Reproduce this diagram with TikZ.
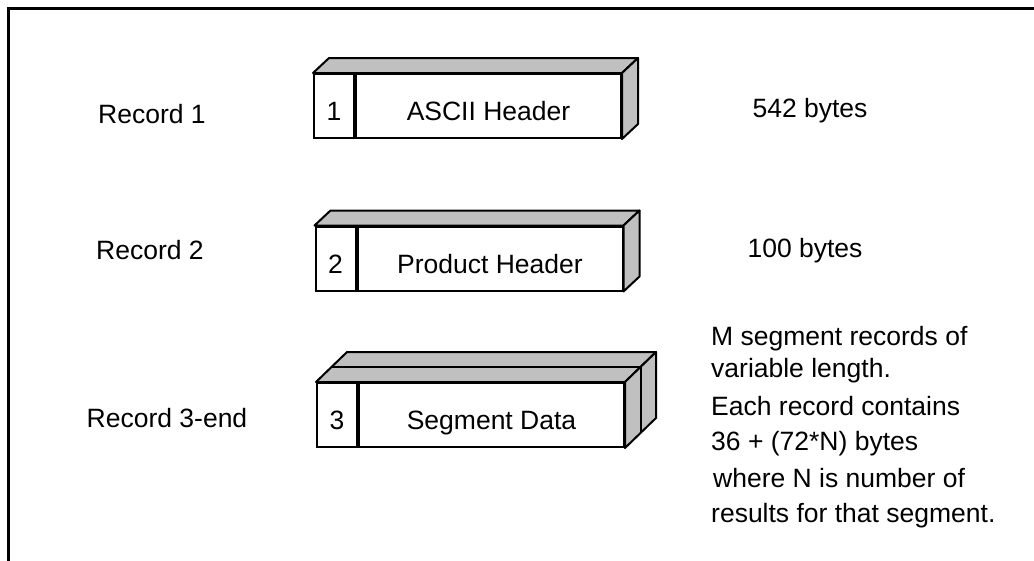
\documentclass[tikz,border=0pt]{standalone}
\usepackage{fontspec}
\setmainfont{Liberation Sans}
\usetikzlibrary{positioning}
\definecolor{shade}{RGB}{192,192,192}
\tikzset{
	numcell/.style={draw, line width=2pt, fill=white, inner sep=0pt, minimum width=40pt, minimum height=64pt, text height=33pt, text depth=4pt},
	namecell/.style={numcell, minimum width=265pt},
	face/.style={draw, line width=2pt, fill=shade, line join=round},
	lbl/.style={anchor=base, inner sep=0pt},
	note/.style={anchor=base west, inner sep=0pt}
}
\begin{document}
\begin{tikzpicture}[x=1pt, y=1pt, font=\fontsize{26.5}{31}\selectfont]
	\useasboundingbox (0,0) rectangle (1034,-560);
	\clip (0,0) rectangle (1034,-560);
	\draw [line width=3pt] (8,-8) rectangle (1060,-580);

	% record 1
	\node [numcell] (n1) at (334,-106) {1};
	\node [namecell, right=0pt of n1] (h1) {ASCII Header};
	\draw [face] (n1.north west) -- ++(16,15) -- ([shift={(16,15)}]h1.north east) -- (h1.north east) -- cycle;
	\draw [face] (h1.north east) -- ++(16,15) -- ([shift={(16,15)}]h1.south east) -- (h1.south east) -- cycle;
	\node [lbl] (r1) at (152,-123) {Record 1};
	\node [lbl] (b1) at (810,-117) {542 bytes};

	% record 2
	\node [numcell] (n2) at (335.5,-258.5) {2};
	\node [namecell, right=0pt of n2] (h2) {Product Header};
	\draw [face] (n2.north west) -- ++(16,15) -- ([shift={(16,15)}]h2.north east) -- (h2.north east) -- cycle;
	\draw [face] (h2.north east) -- ++(16,15) -- ([shift={(16,15)}]h2.south east) -- (h2.south east) -- cycle;
	\node [lbl] (r2) at (150,-259) {Record 2};
	\node [lbl] (b2) at (805,-257) {100 bytes};

	% record 3-end, two boxes deep
	\node [numcell] (n3) at (337,-415) {3};
	\node [namecell, right=0pt of n3] (h3) {Segment Data};
	\draw [face] (n3.north west) -- ++(31,30) -- ([shift={(31,30)}]h3.north east) -- (h3.north east) -- cycle;
	\draw [face] (h3.north east) -- ++(31,30) -- ([shift={(31,30)}]h3.south east) -- (h3.south east) -- cycle;
	\draw [line width=2pt, line join=round] ([shift={(15.5,15)}]n3.north west) -- ([shift={(15.5,15)}]h3.north east) -- ([shift={(15.5,15)}]h3.south east);
	\node [lbl] (r3) at (167,-427) {Record 3-end};
	\node [note] (m1) at (711,-345) {M segment records of};
	\node [note] (m2) at (711,-377) {variable length.};
	\node [note] (m3) at (711,-415) {Each record contains};
	\node [note] (m4) at (711,-450) {36 + (72*N) bytes};
	\node [note] (m5) at (713,-487) {where N is number of};
	\node [note] (m6) at (711,-522) {results for that segment.};
\end{tikzpicture}
\end{document}
